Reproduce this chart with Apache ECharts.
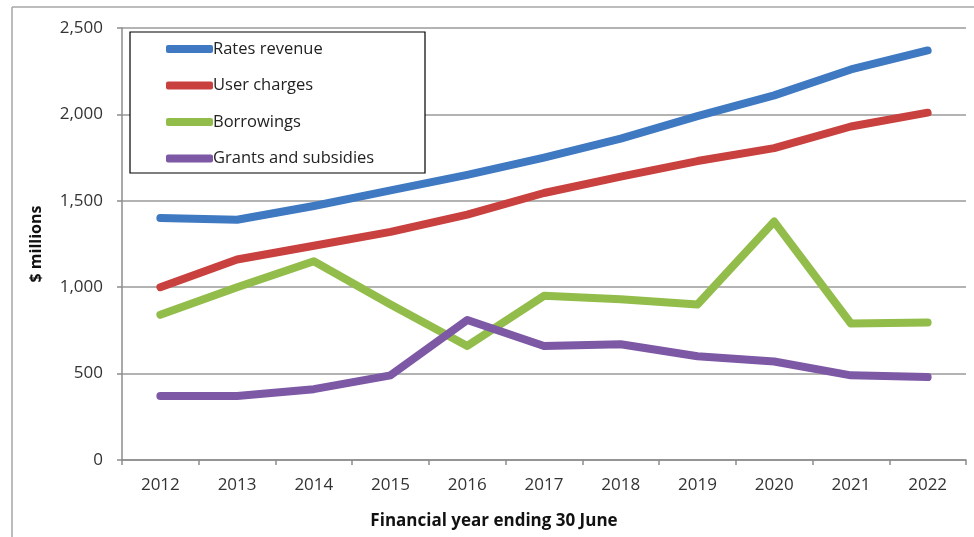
<!DOCTYPE html>
<html>
<head>
<meta charset="utf-8">
<script src="https://cdn.jsdelivr.net/npm/echarts@6/dist/echarts.min.js"></script>
<style>
html,body{margin:0;padding:0;background:#fff;}
#chart{width:974px;height:537px;}
</style>
</head>
<body>
<div id="chart"></div>
<script>
var years = ['2012','2013','2014','2015','2016','2017','2018','2019','2020','2021','2022'];
var ratesRevenue = [1400,1390,1470,1560,1650,1750,1860,1990,2110,2260,2370];
var userCharges = [1000,1160,1240,1320,1420,1545,1640,1730,1805,1930,2010];
var borrowings = [840,1000,1150,900,660,950,930,900,1380,790,795];
var grants = [370,370,410,490,810,660,670,600,570,490,480];
var seriesNames = ['Rates revenue','User charges','Borrowings','Grants and subsidies'];
var colors = ['#3f79c2','#c9413f','#93bd4a','#7d58a5'];
var yTicks = [0,500,1000,1500,2000,2500];

var font = 'Open Sans';
var chart = echarts.init(document.getElementById('chart'));
var dataSets = [ratesRevenue, userCharges, borrowings, grants];

chart.setOption({
  animation: false,
  backgroundColor: '#fff',
  grid: {left: 122, right: 8, top: 28, bottom: 77},
  graphic: [
    {type: 'line', shape: {x1: 12, y1: 7, x2: 974, y2: 7}, style: {stroke: '#a6a6a6', lineWidth: 1.5}},
    {type: 'line', shape: {x1: 12, y1: 7, x2: 12, y2: 537}, style: {stroke: '#a6a6a6', lineWidth: 1.5}},
    {type: 'rect', z: 10, shape: {x: 130, y: 32, width: 295, height: 141}, style: {fill: '#fff', stroke: '#000', lineWidth: 1.2}}
  ],
  legend: {
    show: true,
    orient: 'vertical',
    left: 166,
    top: 39,
    padding: 0,
    z: 11,
    itemWidth: 47,
    itemHeight: 8,
    itemGap: 16.5,
    icon: 'roundRect',
    data: seriesNames,
    textStyle: {fontFamily: font, fontSize: 16.5, color: '#222', lineHeight: 20, padding: [0,0,0,-5]}
  },
  xAxis: {
    type: 'category',
    data: years,
    boundaryGap: true,
    name: 'Financial year ending 30 June',
    nameLocation: 'middle',
    nameGap: 53,
    nameTextStyle: {fontFamily: font, fontSize: 17, fontWeight: 'bold', color: '#111', padding: [0, 100, 0, 0]},
    axisLine: {lineStyle: {color: '#8c8c8c', width: 1.5}},
    axisTick: {show: true, length: 5, lineStyle: {color: '#8c8c8c', width: 1.5}},
    axisLabel: {fontFamily: font, fontSize: 17, color: '#333', margin: 17}
  },
  yAxis: {
    type: 'value',
    min: yTicks[0],
    max: yTicks[yTicks.length - 1],
    interval: 500,
    name: '$ millions',
    nameLocation: 'middle',
    nameGap: 78,
    nameRotate: 90,
    nameTextStyle: {fontFamily: font, fontSize: 16, fontWeight: 'bold', color: '#111'},
    axisLine: {show: true, lineStyle: {color: '#8c8c8c', width: 1.5}},
    axisTick: {show: true, length: 5, lineStyle: {color: '#8c8c8c', width: 1.5}},
    splitLine: {show: true, lineStyle: {color: '#9a9a9a', width: 1.5}},
    axisLabel: {
      fontFamily: font, fontSize: 17, color: '#333', margin: 19,
      formatter: function (v) { return v.toLocaleString('en-US'); }
    }
  },
  series: seriesNames.map(function (n, i) {
    return {
      name: n,
      type: 'line',
      data: dataSets[i],
      symbol: 'none',
      color: colors[i],
      lineStyle: {width: 8, color: colors[i], cap: 'round', join: 'round'},
      z: 2 + i
    };
  })
});
</script>
</body>
</html>
